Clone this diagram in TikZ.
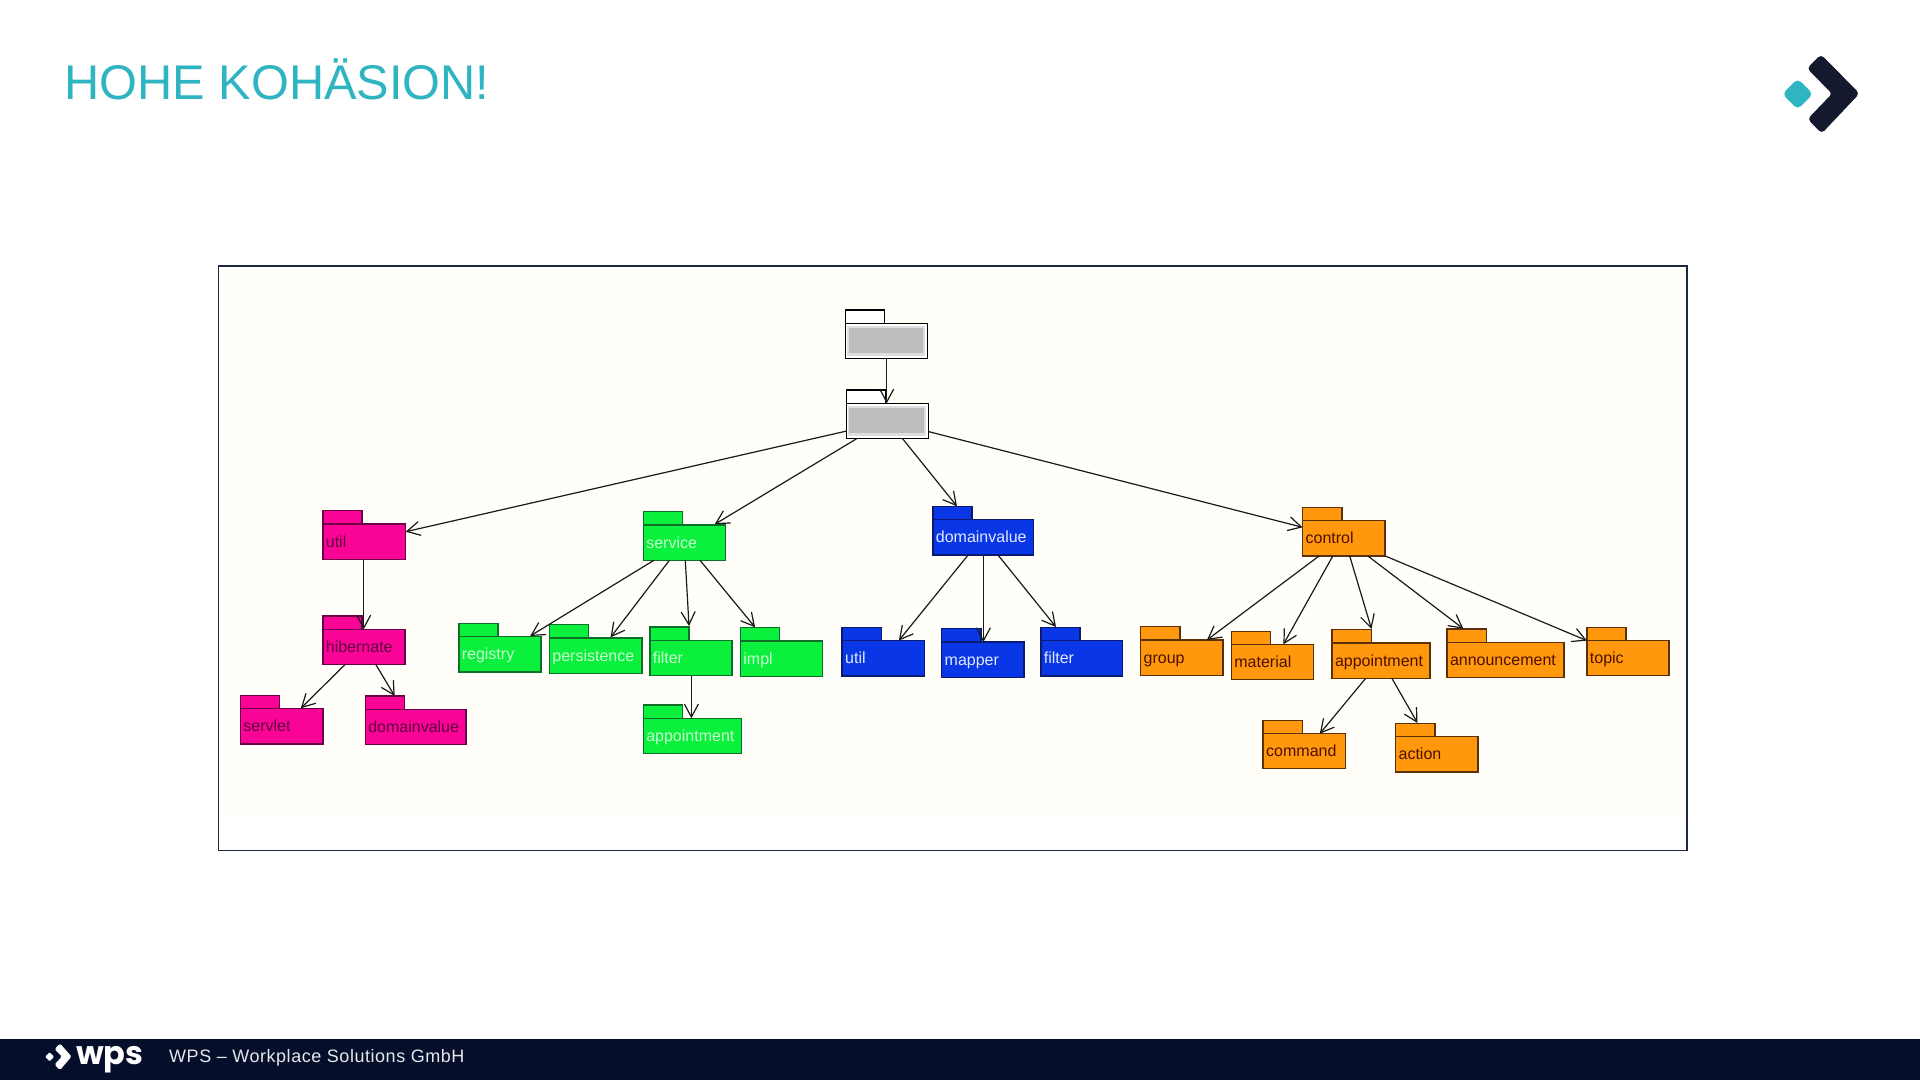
\documentclass[tikz,border=0pt]{standalone}
\usepackage{fontspec}
\setmainfont{Liberation Sans}
\newfontfamily\footfont[LetterSpace=3]{Liberation Sans}
\newfontfamily\logofont{Poppins}
\usetikzlibrary{arrows.meta,calc}
\definecolor{titleteal}{HTML}{2FB5C2}
\definecolor{navy}{HTML}{050F2B}
\definecolor{logodark}{HTML}{14192E}
\definecolor{framecol}{HTML}{1B2A40}
\definecolor{cream}{HTML}{FFFEF8}
\definecolor{pinkfill}{HTML}{FA0497}
\definecolor{pinkline}{HTML}{6E0046}
\definecolor{pinktext}{HTML}{5E0040}
\definecolor{greenfill}{HTML}{0BF03C}
\definecolor{greenline}{HTML}{0C6E28}
\definecolor{greentext}{HTML}{C8FFD0}
\definecolor{bluefill}{HTML}{0A37E6}
\definecolor{blueline}{HTML}{0A1A70}
\definecolor{bluetext}{HTML}{E0E8FF}
\definecolor{orangefill}{HTML}{FF980C}
\definecolor{orangeline}{HTML}{5A3008}
\definecolor{orangetext}{HTML}{4E1000}
\definecolor{blockgray}{HTML}{BDBDBD}
\definecolor{blockhalo}{HTML}{DEDEDE}
\tikzset{
  pkgbox/.style={rectangle,outer sep=0pt,line width=1.5pt},
  pkgpink/.style={pkgbox,fill=pinkfill,draw=pinkline,text=pinktext},
  pkggreen/.style={pkgbox,fill=greenfill,draw=greenline,text=greentext},
  pkgblue/.style={pkgbox,fill=bluefill,draw=blueline,text=bluetext},
  pkgorange/.style={pkgbox,fill=orangefill,draw=orangeline,text=orangetext},
  pkgwhite/.style={pkgbox,fill=white,draw=black},
  dep/.style={draw=black!90,line width=1.2pt,-{Straight Barb[length=13pt,width=14pt,line width=1.2pt]}},
}
% name, left, tab top, right, bottom, style, label
\newcommand{\pkgnode}[7]{%
  \pgfmathsetmacro{\pkgw}{#4-#2}%
  \pgfmathsetmacro{\pkgh}{#5-#3-13.3}%
  \pgfmathsetmacro{\pkgt}{#4-#2-6}%
  \node[#6,anchor=north west,inner sep=0pt,minimum width=39.3pt,minimum height=13.3pt] (#1-tab) at (#2,#3) {};
  \node[#6,anchor=north west,inner xsep=3pt,inner ysep=0pt,minimum width=\pkgw pt,minimum height=\pkgh pt,
        text width=\pkgt pt,align=left,text height=14pt,text depth=3pt,font=\fontsize{16}{18}\selectfont]
        (#1) at ($(#2,#3)+(0,13.3)$) {#7};}
% from, dx on its bottom edge, to, dx, dy from its top left corner
\newcommand{\dependency}[5]{\draw[dep] ($(#1.south west)+(#2,0)$) -- ($(#3.north west)+(#4,#5)$);}
\begin{document}
\begin{tikzpicture}[x=1pt,y=-1pt]
\useasboundingbox (0,0) rectangle (1920,1080);
\fill[white] (0,0) rectangle (1920,1080);
% title and logo
\node[anchor=base west,inner sep=0pt,text=titleteal,font=\fontsize{48.7}{50}\selectfont] (title) at (64.5,99.3) {HOHE KOHÄSION!};
\fill[titleteal,draw=titleteal,line width=2pt,rounded corners=4pt] (1797.7,80) -- (1811.7,94) -- (1797.7,108) -- (1783.7,94) -- cycle;
\fill[logodark,draw=logodark,line width=1pt,rounded corners=3.5pt] (1807.7,68.3) -- (1821,55.2) -- (1858.8,93.5) -- (1821.7,132.8) -- (1808.3,119) -- (1832.7,93.7) -- cycle;
% frame
\draw[framecol,line width=1.6pt,fill=white] (218.4,266) rectangle (1687,850.3);
\fill[cream] (219.4,267) rectangle (1686,817);
% packages
\pkgnode{top}{845.3}{310}{927.7}{358.3}{pkgwhite}{}
\pkgnode{base}{846.3}{390}{928.7}{438.3}{pkgwhite}{}
\fill[blockhalo] (847,326) rectangle (925,356);
\fill[blockgray] (849,328.3) rectangle (922.7,353.3);
\fill[blockhalo] (847.5,405.5) rectangle (926,436);
\fill[blockgray] (849.3,407.7) rectangle (923.7,433.3);
\pkgnode{putil}{322.9}{510.7}{405.7}{559.3}{pkgpink}{util}
\pkgnode{phib}{322.9}{616}{404.9}{664.7}{pkgpink}{hibernate}
\pkgnode{pserv}{240.4}{695.3}{322.9}{744}{pkgpink}{servlet}
\pkgnode{pdom}{365.3}{696}{466.1}{744.3}{pkgpink}{domainvalue}
\pkgnode{gserv}{643.3}{511.7}{725.3}{560.3}{pkggreen}{service}
\pkgnode{greg}{458.8}{623.3}{540.8}{672}{pkggreen}{registry}
\pkgnode{gpers}{549.4}{624.7}{642}{673.3}{pkggreen}{persistence}
\pkgnode{gfilt}{649.8}{627}{731.8}{675.7}{pkggreen}{filter}
\pkgnode{gimpl}{740.4}{627.7}{822.4}{676.3}{pkggreen}{impl}
\pkgnode{gapp}{643.3}{705}{741.6}{753.7}{pkggreen}{appointment}
\pkgnode{bdom}{932.9}{506.3}{1033.5}{555}{pkgblue}{domainvalue}
\pkgnode{butil}{842.2}{627.3}{924.5}{676}{pkgblue}{util}
\pkgnode{bmap}{941.7}{628.7}{1024}{677.7}{pkgblue}{mapper}
\pkgnode{bfilt}{1040.8}{627.3}{1122.7}{676}{pkgblue}{filter}
\pkgnode{octrl}{1302.6}{507.3}{1384.9}{556}{pkgorange}{control}
\pkgnode{ogroup}{1140.7}{626.7}{1223}{675.3}{pkgorange}{group}
\pkgnode{omat}{1231.4}{631.3}{1313.7}{679.7}{pkgorange}{material}
\pkgnode{oapp}{1332}{629.7}{1430}{678.3}{pkgorange}{appointment}
\pkgnode{oann}{1447}{629}{1564}{677.3}{pkgorange}{announcement}
\pkgnode{otopic}{1586.9}{627.3}{1669}{675.7}{pkgorange}{topic}
\pkgnode{ocmd}{1263.2}{720.3}{1345.4}{768.7}{pkgorange}{command}
\pkgnode{oact}{1395.6}{723.3}{1477.8}{772}{pkgorange}{action}
% connectors
\dependency{top}{41.4}{base}{40.4}{0}
\draw[dep] ($(base.south west)+(0.4,-7.3)$) -- ($(putil.north east)+(0,7.7)$);
\dependency{base}{11}{gserv}{71.4}{-0.7}
\dependency{base}{56}{bdom}{24.1}{-13.3}
\draw[dep] ($(base.south east)+(0.3,-6.6)$) -- ($(octrl.north west)+(0,6.7)$);
\dependency{putil}{40.8}{phib}{40.8}{0}
\dependency{phib}{22}{pserv}{60.4}{-0.3}
\dependency{phib}{53}{pdom}{29.4}{-13.3}
\dependency{gserv}{10.6}{greg}{71.4}{-0.6}
\dependency{gserv}{26.1}{gpers}{61.2}{-0.7}
\dependency{gserv}{42}{gfilt}{39.2}{-14.3}
\dependency{gserv}{56.7}{gimpl}{14.7}{-13.7}
\dependency{gfilt}{41.6}{gapp}{48.1}{0}
\dependency{bdom}{35.2}{butil}{56.6}{0}
\dependency{bdom}{50.5}{bmap}{41.7}{0}
\dependency{bdom}{65.1}{bfilt}{15.2}{-13.6}
\dependency{octrl}{16.4}{ogroup}{66.2}{0}
\dependency{octrl}{30.2}{omat}{52}{-0.3}
\dependency{octrl}{47.1}{oapp}{39.5}{-14}
\dependency{octrl}{65.3}{oann}{16.3}{-13.6}
\dependency{octrl}{82.7}{otopic}{0}{0}
\dependency{oapp}{33.7}{ocmd}{56.6}{0.1}
\dependency{oapp}{59.9}{oact}{21.9}{-13.6}
% footer
\fill[navy] (0,1039) rectangle (1920,1080);
\fill[white,rounded corners=1pt] (49.7,1052.2) -- (54.2,1056.7) -- (49.7,1061.2) -- (45.2,1056.7) -- cycle;
\fill[white,rounded corners=1.5pt] (54.5,1049) -- (60,1043.5) -- (71.5,1056.5) -- (60,1070) -- (54.5,1064.5) -- (62,1056.5) -- cycle;
\node[anchor=base west,inner sep=0pt,text=white,font=\logofont\bfseries\fontsize{32}{33}\selectfont] (wps) at (76,1064.5) {wps};
\node[anchor=base west,inner sep=0pt,text=white!90!navy,font=\footfont\fontsize{18}{20}\selectfont] (foot) at (169,1062) {WPS – Workplace Solutions GmbH};
\end{tikzpicture}
\end{document}
